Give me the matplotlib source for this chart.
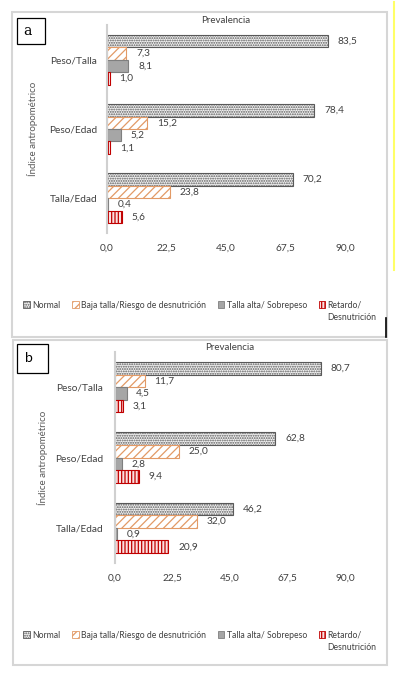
import matplotlib.pyplot as plt
from matplotlib.patches import Rectangle
from matplotlib.lines import Line2D
import numpy as np

plt.rcParams['font.family'] = ['Lato', 'DejaVu Sans']
plt.rcParams['hatch.linewidth'] = 0.9

# data
categories = ["Peso/Talla", "Peso/Edad", "Talla/Edad"]
series = ["Normal", "Baja talla/Riesgo de desnutrición",
          "Talla alta/ Sobrepeso", "Retardo/"]
values_a = {
    "Normal": [83.5, 78.4, 70.2],
    "Baja": [7.3, 15.2, 23.8],
    "Alta": [8.1, 5.2, 0.4],
    "Retardo": [1.0, 1.1, 5.6],
}
values_b = {
    "Normal": [80.7, 62.8, 46.2],
    "Baja": [11.7, 25.0, 32.0],
    "Alta": [4.5, 2.8, 0.9],
    "Retardo": [3.1, 9.4, 20.9],
}
xticks = [0, 22.5, 45, 67.5, 90]

styles = {
    "Normal": dict(facecolor="#f2f2f2", edgecolor="#595959", hatch="......."),
    "Baja": dict(facecolor="white", edgecolor="#e29a66", hatch="////"),
    "Alta": dict(facecolor="#a6a6a6", edgecolor="#7f7f7f", hatch=None),
    "Retardo": dict(facecolor="#fbe0e0", edgecolor="#c00000", hatch="|||||"),
}
keys = ["Normal", "Baja", "Alta", "Retardo"]

W, H = 396, 674
fig = plt.figure(figsize=(W / 100, H / 100), dpi=100)


def fx(px):
    return px / W


def fy(py):
    return 1 - py / H


def fmt(v):
    return f"{v:.1f}".replace(".", ",")


def panel(values, box, axbox, letter, letter_font, ylab_x, ypad, leg_y):
    # grey frame around the panel
    x0, y0, x1, y1 = box
    fig.patches.append(Rectangle((fx(x0), fy(y1)), fx(x1) - fx(x0), fy(y0) - fy(y1),
                                 transform=fig.transFigure, fill=False,
                                 edgecolor="#d6d6d6", linewidth=1.5))
    ax = fig.add_axes(axbox)
    y = np.arange(len(categories))
    h = 0.18
    offs = [-0.27, -0.09, 0.09, 0.27]
    for k, off in zip(keys, offs):
        bars = ax.barh(y + off, values[k], height=h, linewidth=0.8, **styles[k])
        ax.bar_label(bars, labels=[fmt(v) for v in values[k]],
                     padding=7, fontsize=7.3, color="#404040")
    ax.set_ylim(2.5, -0.5)
    ax.set_xlim(0, 90)
    ax.set_yticks(y)
    ax.set_yticklabels(categories, fontsize=7.3, color="#404040")
    ax.set_xticks(xticks)
    ax.set_xticklabels([fmt(t) for t in xticks], fontsize=7.3, color="#404040")
    ax.tick_params(length=0, axis="x", pad=8)
    ax.tick_params(length=0, axis="y", pad=ypad)
    for s in ["top", "right", "bottom"]:
        ax.spines[s].set_visible(False)
    ax.spines["left"].set_color("#d0d0d0")
    ax.spines["left"].set_linewidth(1.5)
    ax.set_title("Prevalencia", fontsize=7, color="#404040", pad=0)
    ax.set_facecolor("none")

    # y axis label
    fig.text(fx(ylab_x), axbox[1] + axbox[3] / 2, "Índice antropométrico",
             rotation=90, ha="center", va="center", fontsize=7, color="#595959")

    # letter box
    lx0, ly0, lx1, ly1 = letter
    fig.patches.append(Rectangle((fx(lx0), fy(ly1)), fx(lx1) - fx(lx0), fy(ly0) - fy(ly1),
                                 transform=fig.transFigure, facecolor="white",
                                 edgecolor="black", linewidth=0.9))
    fig.text((fx(lx0) + fx(lx1)) / 2 - 0.01, (fy(ly0) + fy(ly1)) / 2, letter_font[0],
             ha="center", va="center", fontsize=10, family=letter_font[1])

    # legend
    handles = [Rectangle((0, 0), 1, 1, linewidth=0.6, **styles[k]) for k in keys]
    leg = ax.legend(handles, series, loc="center left", ncol=4, frameon=False,
                    fontsize=6.2, handlelength=0.75, handleheight=0.75,
                    handletextpad=0.3, columnspacing=1.35, borderpad=0,
                    bbox_to_anchor=(fx(19), fy(leg_y)),
                    bbox_transform=fig.transFigure, labelcolor="#404040")
    fig.canvas.draw()
    ext = leg.get_texts()[3].get_window_extent()
    fig.text(ext.x0 / W, fy(leg_y + 13), "Desnutrición", ha="left", va="center",
             fontsize=6.2, color="#404040")
    return ax


panel(values_a, (12, 12, 387, 337),
      [fx(107), fy(233), fx(345) - fx(107), fy(25) - fy(233)],
      (17, 18, 45, 44), ("a", "DejaVu Serif"), 33, 7, 305)
panel(values_b, (13, 340, 387, 665),
      [fx(115), fy(563), fx(345) - fx(115), fy(352) - fy(563)],
      (17, 344, 48, 373), ("b", "Lato"), 43, 8.5, 635)

# small artifacts at the right edge
fig.lines.append(Line2D([fx(394), fx(394)], [fy(2), fy(270)], transform=fig.transFigure,
                        color="#ffff66", linewidth=1.5))
fig.lines.append(Line2D([fx(386), fx(386)], [fy(318), fy(337)], transform=fig.transFigure,
                        color="black", linewidth=1.2))

fig.savefig("out.png", dpi=100)
